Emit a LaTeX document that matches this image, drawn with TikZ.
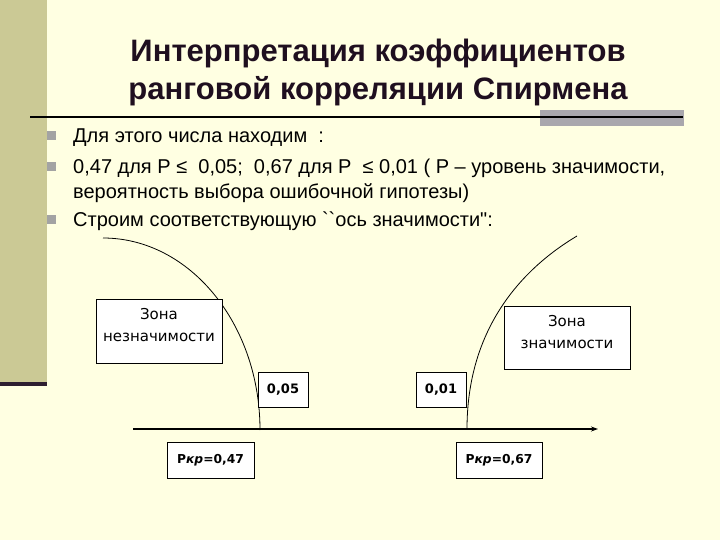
\documentclass[tikz,border=0pt]{standalone}
\usepackage{fontspec}
\setmainfont{Liberation Sans}[Ligatures=TeXOff]
\newfontfamily\boxfont{DejaVu Sans}
\usetikzlibrary{arrows.meta}
\definecolor{bg}{HTML}{FFFFE2}
\definecolor{strip}{HTML}{CBC995}
\definecolor{stripline}{HTML}{2D1E30}
\definecolor{titlecol}{HTML}{1F0F1F}
\definecolor{bulletcol}{HTML}{A3A3A3}
\definecolor{barcol}{HTML}{A9A7AD}
\begin{document}
\begin{tikzpicture}[x=1bp,y=-1bp,
  boxstyle/.style={draw=black, line width=0.8bp, fill=white, inner sep=0pt},
  zonetext/.style={font=\boxfont\fontsize{15bp}{22bp}\selectfont, align=center, inner sep=0pt},
  numtext/.style={font=\boxfont\bfseries\fontsize{13bp}{16bp}\selectfont},
  pktext/.style={font=\boxfont\bfseries\fontsize{12.3bp}{15bp}\selectfont},
  bodytext/.style={font=\fontsize{20bp}{25bp}\selectfont, anchor=base west, inner sep=0pt},
  titletext/.style={font=\bfseries\fontsize{31bp}{38bp}\selectfont, text=titlecol, anchor=base, inner sep=0pt},
  bulletsq/.style={fill=bulletcol, minimum size=9bp, inner sep=0pt},
  curvestyle/.style={line width=0.8bp}
]
% background and margins
\fill[bg] (0,0) rectangle (720,540);
\useasboundingbox (0,0) rectangle (720,540);
% left strip
\fill[strip] (0,0) rectangle (47,382);
\fill[stripline] (0,382) rectangle (47,386);
% title
\node[titletext] (title1) at (378,62) {Интерпретация коэффициентов};
\node[titletext] (title2) at (378,100) {ранговой корреляции Спирмена};
% rule with grey bar
\fill[barcol] (540,110) rectangle (684,126);
\coordinate (ruleA) at (30,117);
\coordinate (ruleB) at (683,117);
\draw[line width=2bp, black] (ruleA) -- (ruleB);
% bullets and text
\node[bulletsq] (b1) at (51.5,135.5) {};
\node[bulletsq] (b2) at (51.5,166.5) {};
\node[bulletsq] (b3) at (51.5,219.5) {};
\node[bodytext] (t1) at (73,143) {Для этого числа находим\ \ :};
\node[bodytext] (t2) at (73,174) {0,47 для Р ≤\ \ 0,05;\ \ 0,67 для Р\ \ ≤ 0,01 ( Р – уровень значимости,};
\node[bodytext] (t3) at (73,199) {вероятность выбора ошибочной гипотезы)};
\node[bodytext] (t4) at (73,227) {Строим соответствующую \symbol{96}\symbol{96}ось значимости\symbol{34}:};
% axis
\coordinate (axA) at (133,429);
\coordinate (axB) at (598,429);
\coordinate (c47) at (260,429);
\coordinate (c67) at (467,429);
\coordinate (top47) at (103,238);
\coordinate (top67) at (577,236);
\draw[line width=1.5bp, -{Stealth[length=7bp,width=5bp]}] (axA) -- (axB);
% curves
\draw[curvestyle] (top47) arc[start angle=90, end angle=0, x radius=157, y radius=-192];
\draw[curvestyle] (c67) .. controls (467,330) and (520,270) .. (top67);
% boxes
\node[boxstyle, minimum width=126bp, minimum height=64bp] (zone1) at (159,331) {};
\node[zonetext] (zone1txt) at (159,325) {Зона\\незначимости};
\node[boxstyle, minimum width=126bp, minimum height=63bp] (zone2) at (567,337.5) {};
\node[zonetext] (zone2txt) at (567,332.5) {Зона\\значимости};
\node[boxstyle, numtext, minimum width=50bp, minimum height=35bp] (p05) at (283,389.5) {0,05};
\node[boxstyle, numtext, minimum width=50bp, minimum height=35bp] (p01) at (441,389.5) {0,01};
\node[boxstyle, pktext, minimum width=87bp, minimum height=36bp] (pk47) at (210.5,460) {Р{\itshape кр}=0,47};
\node[boxstyle, pktext, minimum width=86bp, minimum height=36bp] (pk67) at (499,460) {Р{\itshape кр}=0,67};
\end{tikzpicture}
\end{document}
